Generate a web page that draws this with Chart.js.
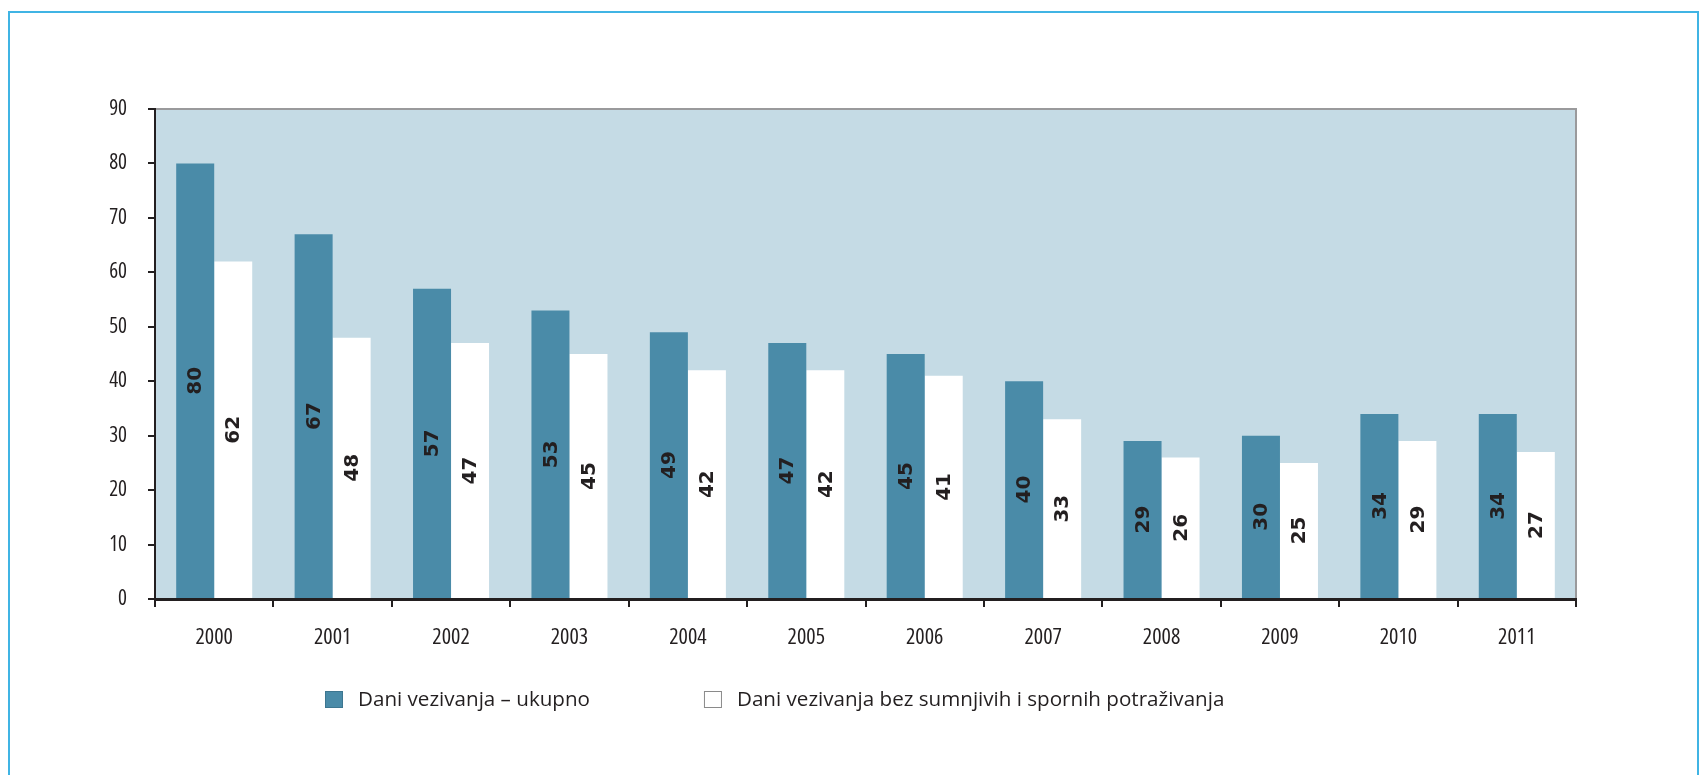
<!DOCTYPE html>
<html>
<head>
<meta charset="utf-8">
<script src="https://cdn.jsdelivr.net/npm/chart.js@4.4.0/dist/chart.umd.min.js"></script>
<style>
  html, body { margin: 0; padding: 0; background: #fff; overflow: hidden; }
  #wrap { position: relative; width: 1701px; height: 775px; }
  #frame { position: absolute; left: 8px; top: 11px; width: 1691px; height: 820px; border: 2px solid #40b4e4; box-sizing: border-box; }
  #chart { position: absolute; left: 0; top: 0; }
</style>
</head>
<body>
<div id="wrap">
  <div id="frame"></div>
  <canvas id="chart" width="1701" height="775"></canvas>
</div>
<script>
const years = ['2000', '2001', '2002', '2003', '2004', '2005', '2006', '2007', '2008', '2009', '2010', '2011'];
const totalDays = [80, 67, 57, 53, 49, 47, 45, 40, 29, 30, 34, 34];
const cleanDays = [62, 48, 47, 45, 42, 42, 41, 33, 26, 25, 29, 27];
const seriesNames = ['Dani vezivanja – ukupno', 'Dani vezivanja bez sumnjivih i spornih potraživanja'];
const yMin = 0, yMax = 90, yStep = 10;

const textColor = '#231f20';
// 'condensed' goes into the font shorthand, Open Sans has a width axis
const xTickFont = { family: "'Open Sans', sans-serif", size: 22, weight: 'condensed' };
const yTickFont = { family: "'Open Sans', sans-serif", size: 21, weight: 'condensed' };

// light blue plot box with grey top/right edge
const plotBackground = {
    id: 'plotBackground',
    beforeDraw(chart) {
        const { ctx, chartArea: a } = chart;
        ctx.save();
        ctx.fillStyle = '#c5dbe5';
        ctx.fillRect(a.left, a.top, a.right - a.left, a.bottom - a.top);
        ctx.strokeStyle = '#9a9a9c';
        ctx.lineWidth = 2;
        ctx.beginPath();
        ctx.moveTo(a.left, a.top);
        ctx.lineTo(a.right, a.top);
        ctx.lineTo(a.right, a.bottom);
        ctx.stroke();
        ctx.restore();
    }
};

// rotated value labels in the middle of each bar
const barValues = {
    id: 'barValues',
    afterDatasetsDraw(chart) {
        const ctx = chart.ctx;
        ctx.save();
        ctx.font = "bold 20px 'DejaVu Sans', sans-serif";
        ctx.fillStyle = textColor;
        ctx.textAlign = 'center';
        ctx.textBaseline = 'middle';
        chart.data.datasets.forEach((ds, i) => {
            chart.getDatasetMeta(i).data.forEach((bar, j) => {
                const { x, y, base } = bar.getProps(['x', 'y', 'base'], true);
                ctx.save();
                ctx.translate(x, (y + base) / 2);
                ctx.rotate(-Math.PI / 2);
                ctx.fillText(String(ds.data[j]), 0, 1);
                ctx.restore();
            });
        });
        ctx.restore();
    }
};

// legend under the axis
const bottomLegend = {
    id: 'bottomLegend',
    afterDraw(chart) {
        const ctx = chart.ctx;
        ctx.save();
        ctx.font = "20.6px 'Open Sans', sans-serif";
        ctx.textBaseline = 'middle';
        let x = 325;
        const y = 691;
        chart.data.datasets.forEach(ds => {
            ctx.fillStyle = ds.backgroundColor;
            ctx.fillRect(x, y, 18, 17);
            ctx.strokeStyle = ds.legendBorder;
            ctx.lineWidth = 1;
            ctx.strokeRect(x + 0.5, y + 0.5, 17, 16);
            ctx.fillStyle = textColor;
            ctx.fillText(ds.label, x + 33, y + 9);
            x += 33 + ctx.measureText(ds.label).width + 114;
        });
        ctx.restore();
    }
};

new Chart(document.getElementById('chart'), {
    type: 'bar',
    data: {
        labels: years,
        datasets: [
            {
                label: seriesNames[0],
                data: totalDays,
                backgroundColor: '#4a8ba8',
                legendBorder: '#3d7690'
            },
            {
                label: seriesNames[1],
                data: cleanDays,
                backgroundColor: '#ffffff',
                legendBorder: '#8a8a8a'
            }
        ]
    },
    options: {
        responsive: false,
        animation: false,
        devicePixelRatio: 1,
        layout: { padding: { top: 109, right: 125, left: 0, bottom: 0 } },
        datasets: {
            bar: { categoryPercentage: 0.642, barPercentage: 1.0 }
        },
        plugins: {
            legend: { display: false },
            tooltip: { enabled: false }
        },
        scales: {
            x: {
                afterFit: s => { s.height = 176; },
                grid: { offset: true, drawOnChartArea: false, tickLength: 8, color: textColor, lineWidth: 2 },
                border: { color: textColor, width: 3 },
                ticks: { font: xTickFont, color: textColor, padding: 18, maxRotation: 0 }
            },
            y: {
                min: yMin,
                max: yMax,
                afterFit: s => { s.width = 155; },
                grid: { drawOnChartArea: false, tickLength: 7, color: textColor, lineWidth: 2 },
                border: { color: textColor, width: 2 },
                ticks: { stepSize: yStep, font: yTickFont, color: textColor, padding: 21 }
            }
        }
    },
    plugins: [plotBackground, barValues, bottomLegend]
});
</script>
</body>
</html>
